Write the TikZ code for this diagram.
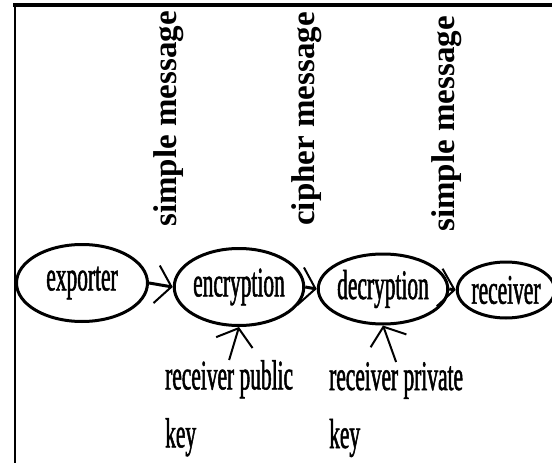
\documentclass[tikz,border=0pt]{standalone}
\usepackage{fontspec}
\setmainfont{Liberation Serif}
\newfontfamily\narrowfont[FakeStretch=0.51, FakeBold=1.2]{Liberation Serif}
\usetikzlibrary{shapes.geometric, arrows.meta}

\tikzset{
  stage/.style={draw, ellipse, line width=3pt, inner sep=0pt,
    font=\narrowfont\fontsize{42}{42}\selectfont},
  flow/.style={line width=3pt,
    -{Straight Barb[length=15pt, width=38pt, line width=2pt]}},
  keylabel/.style={align=left, inner sep=0pt,
    font=\narrowfont\fontsize{42}{58}\selectfont},
  msg/.style={rotate=90, inner sep=0pt,
    font=\bfseries\fontsize{33}{33}\selectfont}
}

\begin{document}
\begin{tikzpicture}[x=1pt, y=-1pt]
    \useasboundingbox (0,0) rectangle (552,463);

    % Frame
    \draw[line width=4pt] (13,5.3) -- (552,5.3);
    \draw[line width=2.5pt] (15,4) -- (15,463);

    % Message labels
    \node[msg] (msgA) at (169,119) {simple message};
    \node[msg] (msgB) at (307,119) {cipher message};
    \node[msg] (msgC) at (447,124) {simple message};

    % Stages
    \node[stage, minimum width=131pt, minimum height=77pt] (exporter) at (82,283) {exporter};
    \node[stage, minimum width=106pt, minimum height=77pt] (encryption) at (239,287) {encryption};
    \node[stage, minimum width=124pt, minimum height=70pt] (decryption) at (383,289) {decryption};
    \node[stage, minimum width=88pt, minimum height=56pt] (receiver) at (506,290) {receiver};

    % Keys
    \node[keylabel, anchor=north west] (pubkey) at (165,360) {receiver public\\ key};
    \node[keylabel, anchor=north west] (privkey) at (329,362) {receiver private\\ key};

    % Connecting the stages
    \draw[flow] (exporter.east) -- (encryption.west);
    \draw[flow] (encryption.east) -- (decryption.west);
    \draw[flow] (decryption.east) -- (receiver.west);

    % Keys into encryption and decryption
    \draw[flow, line width=2pt] (pubkey.north) -- (encryption.south);
    \draw[flow, line width=2pt] (privkey.north) -- (decryption.south);
\end{tikzpicture}
\end{document}
